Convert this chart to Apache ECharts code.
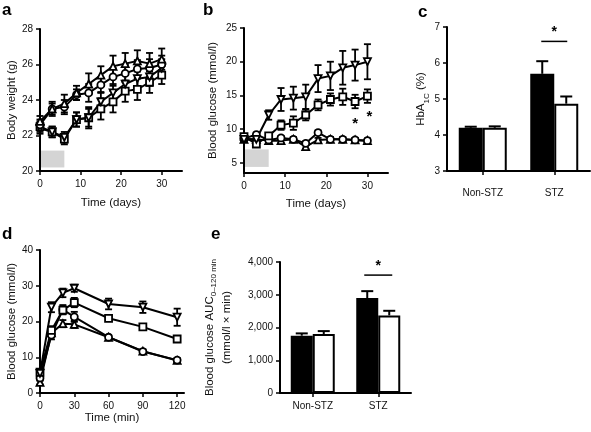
<!DOCTYPE html>
<html><head><meta charset="utf-8">
<script src="https://cdn.jsdelivr.net/npm/echarts@6/dist/echarts.min.js"></script>
<style>html,body{margin:0;padding:0;background:#fff}#c{width:591px;height:432px}</style>
</head><body><div id="c"></div>
<script>
// ---- Panel a: body weight (g) ----
const daysA = [0,3,6,9,12,15,18,21,24,27,30];
const aTri = [22.8,23.5,23.8,24.4,24.9,25.4,25.9,26.05,26.2,26.05,26.3];
const aTriErr = [0.3,0.4,0.5,0.4,0.6,0.5,0.6,0.6,0.6,0.6,0.6];
const aCir = [22.6,23.5,23.6,24.3,24.4,24.85,25.3,25.5,25.75,25.8,26.0];
const aCirErr = [0.3,0.3,0.4,0.3,0.5,0.4,0.5,0.5,0.5,0.5,0.5];
const aInv = [22.4,22.2,21.9,22.9,23.0,23.9,24.4,24.9,25.2,25.3,25.8];
const aInvErr = [0.3,0.3,0.3,0.4,0.5,0.5,0.5,0.5,0.5,0.5,0.5];
const aSq = [22.5,22.2,21.8,22.9,23.0,23.5,23.9,24.5,24.6,25.0,25.4];
const aSqErr = [0.3,0.3,0.3,0.4,0.6,0.6,0.6,0.6,0.6,0.6,0.5];
const aBox = [[0,20.2],[6,21.15]];
const aXTicks = [0,10,20,30];

// ---- Panel b: blood glucose (mmol/l) ----
const daysB = [0,3,6,9,12,15,18,21,24,27,30];
const bTri = [8.5,8.5,8.3,8.3,8.5,7.4,8.4,8.5,8.5,8.4,8.3];
const bTriErr = [0.3,0.3,0.3,0.3,0.3,0.3,0.3,0.3,0.3,0.3,0.3];
const bCir = [8.6,9.2,8.4,8.7,8.5,7.9,9.5,8.5,8.5,8.4,8.3];
const bCirErr = [0.3,0.3,0.3,0.3,0.3,0.3,0.3,0.3,0.3,0.3,0.3];
const bInv = [8.5,8.5,12.1,14.4,14.6,14.8,17.5,17.9,19.1,19.5,20.0];
const bInvErr = [0.3,0.4,0.7,1.7,1.7,1.8,2.0,2.1,2.5,2.3,2.6];
const bSq = [8.9,7.8,9.0,10.6,10.9,12.1,13.6,14.4,14.8,14.1,14.9];
const bSqErr = [0.4,0.3,0.4,0.7,1.0,0.8,0.8,0.9,1.2,1.0,1.0];
const bBox = [[0,4.4],[6,7.0]];
const bStars = [[27,10.8],[30.5,11.8]];
const bYTicks = [5,10,15,20,25];

// ---- Panel c: HbA1c (%) ----
const cCats = ['Non-STZ','STZ'];
const cBlack = [4.2,5.7];
const cBlackErr = [0.03,0.35];
const cWhite = [4.2,4.87];
const cWhiteErr = [0.04,0.2];
const cSig = [[1,6.6]];

// ---- Panel d: OGTT blood glucose (mmol/l) ----
const minsD = [0,10,20,30,60,90,120];
const dInv = [5.5,24.0,28.0,29.3,24.9,24.0,21.2];
const dInvErr = [0.8,1.4,1.2,1.0,1.5,1.6,2.4];
const dSq = [5.8,17.5,23.2,25.3,20.9,18.5,15.1];
const dSqErr = [0.8,1.2,1.0,1.3,0.8,0.6,0.8];
const dCir = [4.2,16.2,23.3,21.3,15.6,11.6,9.2];
const dCirErr = [0.8,1.2,1.3,1.4,0.6,0.5,0.6];
const dTri = [3.0,16.8,19.4,19.2,15.6,11.7,9.1];
const dTriErr = [0.6,1.0,1.0,1.0,0.5,0.5,0.5];
const dXTicks = [0,30,60,90,120];

// ---- Panel e: AUC ----
const eCats = ['Non-STZ','STZ'];
const eBlack = [1750,2900];
const eBlackErr = [70,210];
const eWhite = [1800,2370];
const eWhiteErr = [90,140];
const eSig = [[1,3600]];

const FONT = 'Liberation Sans, Arial, sans-serif';
const TXT = '#111';

function axLine(){return {show:true,onZero:false,lineStyle:{color:'#000',width:2}};}
function axTick(extra){return Object.assign({show:true,inside:false,length:4,lineStyle:{color:'#000',width:1.5}},extra||{});}
function axLabel(extra){return Object.assign({color:TXT,fontSize:10,fontFamily:FONT,margin:7},extra||{});}
const nameStyle = {color:TXT,fontSize:11.5,fontFamily:FONT};

function lineSeries(gi, xs, ys, symbol, rotate){
  return {type:'line',xAxisIndex:gi,yAxisIndex:gi,data:xs.map((x,i)=>[x,ys[i]]),
    symbol:symbol,symbolRotate:rotate||0,symbolSize:7,showSymbol:true,z:5,silent:true,
    lineStyle:{color:'#000',width:2},
    itemStyle:{color:'#fff',borderColor:'#000',borderWidth:1.8},animation:false};
}
function errSeries(gi, xs, ys, es){
  return {type:'custom',xAxisIndex:gi,yAxisIndex:gi,z:3,silent:true,animation:false,
    encode:{x:0,y:1},
    data:xs.map((x,i)=>[x,ys[i],es[i]]),
    renderItem(p,api){
      const x=api.value(0),y=api.value(1),e=api.value(2);
      const t=api.coord([x,y+e]),b=api.coord([x,y-e]);const w=3.5;
      const st={stroke:'#000',lineWidth:1.8};
      return {type:'group',children:[
        {type:'line',shape:{x1:t[0],y1:t[1],x2:b[0],y2:b[1]},style:st},
        {type:'line',shape:{x1:t[0]-w,y1:t[1],x2:t[0]+w,y2:t[1]},style:st},
        {type:'line',shape:{x1:b[0]-w,y1:b[1],x2:b[0]+w,y2:b[1]},style:st}]};
    }};
}
function boxSeries(gi, box){
  return {type:'custom',xAxisIndex:gi,yAxisIndex:gi,z:1,silent:true,animation:false,
    encode:{x:0,y:1},data:[[box[0][0],box[0][1],box[1][0],box[1][1]]],
    renderItem(p,api){
      const a=api.coord([api.value(0),api.value(1)]),b=api.coord([api.value(2),api.value(3)]);
      return {type:'rect',shape:{x:a[0]+1,y:b[1],width:b[0]-a[0]-1,height:a[1]-b[1]},style:{fill:'#d4d4d4'}};
    }};
}
function barPair(gi, black, white, bw){
  return [
    {type:'bar',xAxisIndex:gi,yAxisIndex:gi,data:black,barWidth:bw,barGap:'0%',z:2,silent:true,animation:false,
      itemStyle:{color:'#000',borderColor:'#000',borderWidth:2}},
    {type:'bar',xAxisIndex:gi,yAxisIndex:gi,data:white,barWidth:bw,barGap:'0%',z:2,silent:true,animation:false,
      itemStyle:{color:'#fff',borderColor:'#000',borderWidth:2}}
  ];
}
function barErr(gi, vals, errs, side, bw){
  return {type:'custom',xAxisIndex:gi,yAxisIndex:gi,z:1,silent:true,animation:false,
    encode:{x:0,y:1},data:vals.map((v,i)=>[i,v,errs[i]]),
    renderItem(p,api){
      const c=api.coord([api.value(0),api.value(1)]);
      const t=api.coord([api.value(0),api.value(1)+api.value(2)]);
      const x=c[0]+side*bw/2;const w=6;
      const st={stroke:'#000',lineWidth:2};
      return {type:'group',children:[
        {type:'line',shape:{x1:x,y1:c[1],x2:x,y2:t[1]},style:st},
        {type:'line',shape:{x1:x-w,y1:t[1],x2:x+w,y2:t[1]},style:st}]};
    }};
}
function sigSeries(gi, sig, half){
  return {type:'custom',xAxisIndex:gi,yAxisIndex:gi,z:4,silent:true,animation:false,
    encode:{x:0,y:1},data:sig,
    renderItem(p,api){
      const c=api.coord([api.value(0),api.value(1)]);
      return {type:'group',children:[
        {type:'line',shape:{x1:c[0]-half,y1:c[1],x2:c[0]+half,y2:c[1]},style:{stroke:'#000',lineWidth:1.5}},
        {type:'text',x:c[0],y:c[1]-2,style:{text:'*',fill:'#000',font:'bold 14px '+FONT,align:'center',verticalAlign:'bottom'}}]};
    }};
}
function starSeries(gi, pts){
  return {type:'custom',xAxisIndex:gi,yAxisIndex:gi,z:4,silent:true,animation:false,
    encode:{x:0,y:1},data:pts,
    renderItem(p,api){
      const c=api.coord([api.value(0),api.value(1)]);
      return {type:'text',x:c[0],y:c[1],style:{text:'*',fill:'#000',font:'bold 15px '+FONT,align:'center',verticalAlign:'middle'}};
    }};
}

const option = {
  animation:false,
  backgroundColor:'#fff',
  textStyle:{fontFamily:FONT},
  grid:[
    {left:40,top:29,width:142,height:142},
    {left:244,top:28,width:144,height:145},
    {left:447,top:27,width:143,height:144},
    {left:40,top:250,width:144,height:143},
    {left:280,top:262,width:131,height:131}
  ],
  xAxis:[
    {gridIndex:0,type:'value',min:0,max:35,axisLine:axLine(),splitLine:{show:false},
      axisTick:axTick({customValues:aXTicks}),axisLabel:axLabel({customValues:aXTicks,margin:8}),
      name:'Time (days)',nameLocation:'middle',nameGap:26,nameTextStyle:nameStyle},
    {gridIndex:1,type:'value',min:0,max:35,axisLine:axLine(),splitLine:{show:false},
      axisTick:axTick({customValues:aXTicks}),axisLabel:axLabel({customValues:aXTicks,margin:8}),
      name:'Time (days)',nameLocation:'middle',nameGap:25,nameTextStyle:nameStyle},
    {gridIndex:2,type:'category',data:cCats,axisLine:axLine(),
      axisTick:axTick({alignWithLabel:true,interval:0}),axisLabel:axLabel({margin:17,interval:0})},
    {gridIndex:3,type:'value',min:0,max:126,axisLine:axLine(),splitLine:{show:false},
      axisTick:axTick({customValues:dXTicks}),axisLabel:axLabel({customValues:dXTicks,margin:8}),
      name:'Time (min)',nameLocation:'middle',nameGap:18,nameTextStyle:nameStyle},
    {gridIndex:4,type:'category',data:eCats,axisLine:axLine(),
      axisTick:axTick({alignWithLabel:true,interval:0}),axisLabel:axLabel({margin:8,interval:0})}
  ],
  yAxis:[
    {gridIndex:0,type:'value',min:20,max:28,interval:2,axisLine:axLine(),splitLine:{show:false},
      axisTick:axTick(),axisLabel:axLabel(),
      name:'Body weight (g)',nameLocation:'middle',nameGap:21,nameRotate:90,nameTextStyle:nameStyle},
    {gridIndex:1,type:'value',min:3.5,max:25,axisLine:axLine(),splitLine:{show:false},
      axisTick:axTick({customValues:bYTicks}),axisLabel:axLabel({customValues:bYTicks}),
      name:'Blood glucose (mmol/l)',nameLocation:'middle',nameGap:25,nameRotate:90,nameTextStyle:nameStyle},
    {gridIndex:2,type:'value',min:3,max:7,interval:1,axisLine:axLine(),splitLine:{show:false},
      axisTick:axTick(),axisLabel:axLabel(),
      name:'{n|HbA}{s|1C}{n| (%)}',nameLocation:'middle',nameGap:16,nameRotate:90,
      nameTextStyle:{rich:{n:{color:TXT,fontSize:11.5,fontFamily:FONT},s:{color:TXT,fontSize:8,fontFamily:FONT,verticalAlign:'bottom',padding:[0,0,-4,0]}}}},
    {gridIndex:3,type:'value',min:0,max:40,interval:10,axisLine:axLine(),splitLine:{show:false},
      axisTick:axTick(),axisLabel:axLabel(),
      name:'Blood glucose (mmol/l)',nameLocation:'middle',nameGap:21,nameRotate:90,nameTextStyle:nameStyle},
    {gridIndex:4,type:'value',min:0,max:4000,interval:1000,axisLine:axLine(),splitLine:{show:false},
      axisTick:axTick(),axisLabel:axLabel({formatter:v=>v.toLocaleString('en-US')}),
      name:'{n|Blood glucose AUC}{s|0–120 min}\n{n|(mmol/l × min)}',nameLocation:'middle',nameGap:45,nameRotate:90,
      nameTextStyle:{align:'center',rich:{n:{color:TXT,fontSize:11.5,fontFamily:FONT,lineHeight:17},s:{color:TXT,fontSize:8,fontFamily:FONT,verticalAlign:'bottom',lineHeight:17}}}}
  ],
  graphic:[
    {type:'text',left:2,top:2,style:{text:'a',font:'bold 17px '+FONT,fill:'#000'}},
    {type:'text',left:203,top:2,style:{text:'b',font:'bold 17px '+FONT,fill:'#000'}},
    {type:'text',left:418,top:4,style:{text:'c',font:'bold 17px '+FONT,fill:'#000'}},
    {type:'text',left:2,top:226,style:{text:'d',font:'bold 17px '+FONT,fill:'#000'}},
    {type:'text',left:211,top:226,style:{text:'e',font:'bold 17px '+FONT,fill:'#000'}}
  ],
  series:[
    boxSeries(0,aBox),
    errSeries(0,daysA,aTri,aTriErr),errSeries(0,daysA,aCir,aCirErr),
    errSeries(0,daysA,aInv,aInvErr),errSeries(0,daysA,aSq,aSqErr),
    lineSeries(0,daysA,aSq,'rect'),lineSeries(0,daysA,aInv,'triangle',180),
    lineSeries(0,daysA,aCir,'circle'),lineSeries(0,daysA,aTri,'triangle'),

    boxSeries(1,bBox),
    errSeries(1,daysB,bTri,bTriErr),errSeries(1,daysB,bCir,bCirErr),
    errSeries(1,daysB,bInv,bInvErr),errSeries(1,daysB,bSq,bSqErr),
    lineSeries(1,daysB,bTri,'triangle'),lineSeries(1,daysB,bCir,'circle'),
    lineSeries(1,daysB,bSq,'rect'),lineSeries(1,daysB,bInv,'triangle',180),
    starSeries(1,bStars),

    ...barPair(2,cBlack,cWhite,24),
    barErr(2,cBlack,cBlackErr,-1,24),barErr(2,cWhite,cWhiteErr,1,24),
    sigSeries(2,cSig,13),

    errSeries(3,minsD,dTri,dTriErr),errSeries(3,minsD,dCir,dCirErr),
    errSeries(3,minsD,dSq,dSqErr),errSeries(3,minsD,dInv,dInvErr),
    lineSeries(3,minsD,dTri,'triangle'),lineSeries(3,minsD,dCir,'circle'),
    lineSeries(3,minsD,dSq,'rect'),lineSeries(3,minsD,dInv,'triangle',180),

    ...barPair(4,eBlack,eWhite,22),
    barErr(4,eBlack,eBlackErr,-1,22),barErr(4,eWhite,eWhiteErr,1,22),
    sigSeries(4,eSig,14)
  ]
};
const chart = echarts.init(document.getElementById('c'),null,{renderer:'canvas'});
chart.setOption(option);
</script></body></html>
